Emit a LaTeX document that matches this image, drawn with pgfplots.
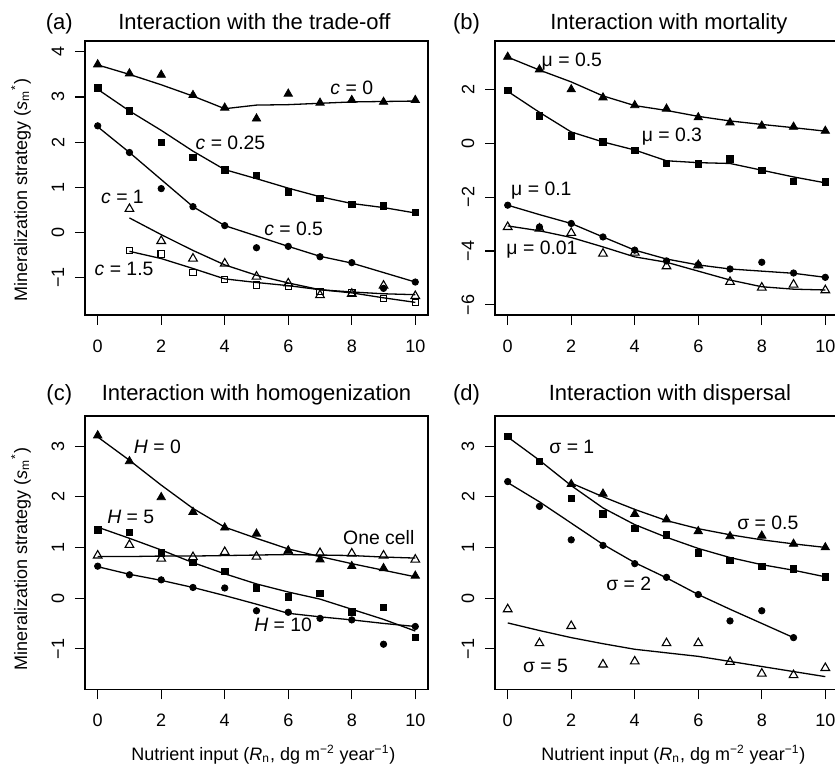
\documentclass[border=0pt]{standalone}
\usepackage{fontspec}
\setmainfont{Liberation Sans}
\usepackage{pgfplots}
\pgfplotsset{compat=1.18}

% 1 px of the reference = 0.5pt
\pgfplotsset{
  rpanel/.style={
    scale only axis, width=171.5pt,
    xmin=-0.4, xmax=10.4,
    xtick={0,2,4,6,8,10}, xticklabels={0,2,4,6,8,10},
    tick pos=left, tick align=outside,
    major tick length=5pt,
    every tick/.style={black, line width=0.55pt},
    axis line style={line width=0.8pt},
    font=\fontsize{9}{10.8}\selectfont,
    xticklabel style={anchor=center, yshift=-10.5pt},
    yticklabel style={xshift=-8.5pt, rotate=90, anchor=center},
    clip=false,
  },
  ftri/.style={only marks, black, mark=triangle*, mark size=2.4pt, mark options={solid, line width=0.4pt}},
  otri/.style={only marks, black, mark=triangle, mark size=2.5pt, mark options={solid, line width=0.55pt}},
  fsq/.style={only marks, black, mark=square*, mark size=1.6pt, mark options={solid, line width=0.4pt}},
  osq/.style={only marks, black, mark=square, mark size=1.6pt, mark options={solid, line width=0.55pt}},
  fci/.style={only marks, black, mark=*, mark size=1.6pt, mark options={solid, line width=0.4pt}},
  fit/.style={no marks, black, line width=0.65pt},
}
\tikzset{
  lab/.style={font=\fontsize{9.7}{11}\selectfont, inner sep=0pt},
  pan/.style={font=\fontsize{11}{13}\selectfont, anchor=base, inner sep=0pt},
}
\newcommand{\ylab}{Mineralization strategy (\textit{s}\textsubscript{m}\textsuperscript{*})}
\newcommand{\xlab}{Nutrient input (\textit{R}\textsubscript{n}, dg m\textsuperscript{−2} year\textsuperscript{−1})}

\begin{document}
\begin{tikzpicture}

% (a)
\begin{axis}[rpanel, at={(42.5pt,-20.5pt)}, anchor=north west, height=137pt,
  ymin=-1.83, ymax=4.24, ytick={-1,0,1,2,3,4}, yticklabels={−1,0,1,2,3,4},
  ylabel={\ylab},
  ylabel style={at={(axis description cs:-0.169,0.455)}, anchor=base, rotate=0},
]
\addplot[fit] coordinates {(0,3.71)(1,3.50)(2,3.27)(3,3.02)(4,2.74)(5,2.82)(6,2.83)(7,2.86)(8,2.89)(9,2.90)(10,2.91)};
\addplot[ftri] coordinates {(0,3.72)(1,3.52)(2,3.49)(3,3.04)(4,2.76)(5,2.52)(6,3.07)(7,2.87)(8,2.93)(9,2.89)(10,2.93)};
\addplot[fit] coordinates {(0,3.17)(1,2.69)(2,2.26)(3,1.80)(4,1.39)(5,1.19)(6,0.98)(7,0.79)(8,0.64)(9,0.55)(10,0.43)};
\addplot[fsq] coordinates {(0,3.20)(1,2.69)(2,1.99)(3,1.66)(4,1.38)(5,1.26)(6,0.90)(7,0.75)(8,0.62)(9,0.59)(10,0.44)};
\addplot[fit] coordinates {(0,2.34)(1,1.77)(2,1.17)(3,0.57)(4,0.15)(5,-0.08)(6,-0.31)(7,-0.53)(8,-0.68)(9,-0.89)(10,-1.10)};
\addplot[fci] coordinates {(0,2.36)(1,1.77)(2,0.97)(3,0.57)(4,0.15)(5,-0.34)(6,-0.31)(7,-0.54)(8,-0.67)(9,-1.24)(10,-1.10)};
\addplot[fit] coordinates {(1,0.32)(2,-0.05)(3,-0.40)(4,-0.72)(5,-0.95)(6,-1.12)(7,-1.27)(8,-1.32)(9,-1.36)(10,-1.38)};
\addplot[otri] coordinates {(1,0.52)(2,-0.19)(3,-0.58)(4,-0.69)(5,-0.98)(6,-1.13)(7,-1.39)(8,-1.36)(9,-1.18)(10,-1.41)};
\addplot[fit] coordinates {(1,-0.42)(2,-0.58)(3,-0.80)(4,-1.03)(5,-1.11)(6,-1.18)(7,-1.27)(8,-1.34)(9,-1.45)(10,-1.55)};
\addplot[osq] coordinates {(1,-0.40)(2,-0.48)(3,-0.89)(4,-1.04)(5,-1.17)(6,-1.20)(7,-1.31)(8,-1.33)(9,-1.47)(10,-1.55)};
\node[lab] at (axis cs:8.0,3.2) {\textit{c} = 0};
\node[lab] at (axis cs:4.18,1.99) {\textit{c} = 0.25};
\node[lab] at (axis cs:6.17,0.09) {\textit{c} = 0.5};
\node[lab] at (axis cs:0.78,0.79) {\textit{c} = 1};
\node[lab] at (axis cs:0.83,-0.81) {\textit{c} = 1.5};
\node[pan] at (axis description cs:-0.075,1.041) {(a)};
\node[pan] at (axis description cs:0.494,1.041) {Interaction with the trade-off};
\end{axis}

% (b)
\begin{axis}[rpanel, at={(247.5pt,-20.5pt)}, anchor=north west, height=137pt,
  ymin=-6.38, ymax=3.80, ytick={-6,-4,-2,0,2}, yticklabels={−6,−4,−2,0,2},
]
\addplot[fit] coordinates {(0,3.20)(1,2.72)(2,2.28)(3,1.76)(4,1.40)(5,1.22)(6,1.00)(7,0.83)(8,0.70)(9,0.58)(10,0.45)};
\addplot[ftri] coordinates {(0,3.21)(1,2.74)(2,2.00)(3,1.70)(4,1.41)(5,1.28)(6,0.96)(7,0.77)(8,0.65)(9,0.61)(10,0.46)};
\addplot[fit] coordinates {(0,1.93)(1,1.15)(2,0.42)(3,0.05)(4,-0.25)(5,-0.65)(6,-0.72)(7,-0.75)(8,-1.00)(9,-1.25)(10,-1.47)};
\addplot[fsq] coordinates {(0,1.97)(1,1.01)(2,0.28)(3,0.05)(4,-0.27)(5,-0.74)(6,-0.77)(7,-0.58)(8,-1.01)(9,-1.42)(10,-1.43)};
\addplot[fit] coordinates {(0,-2.30)(1,-2.65)(2,-2.98)(3,-3.48)(4,-3.97)(5,-4.30)(6,-4.52)(7,-4.67)(8,-4.75)(9,-4.83)(10,-4.98)};
\addplot[fci] coordinates {(0,-2.30)(1,-3.11)(2,-2.98)(3,-3.48)(4,-3.97)(5,-4.37)(6,-4.51)(7,-4.67)(8,-4.42)(9,-4.82)(10,-4.98)};
\addplot[fit] coordinates {(0,-3.07)(1,-3.25)(2,-3.50)(3,-3.85)(4,-4.22)(5,-4.42)(6,-4.75)(7,-5.08)(8,-5.33)(9,-5.42)(10,-5.45)};
\addplot[otri] coordinates {(0,-3.11)(1,-3.17)(2,-3.33)(3,-4.10)(4,-4.06)(5,-4.57)(6,-4.53)(7,-5.15)(8,-5.36)(9,-5.25)(10,-5.46)};
\node[lab] at (axis cs:2.02,3.05) {μ = 0.5};
\node[lab] at (axis cs:5.17,0.24) {μ = 0.3};
\node[lab] at (axis cs:1.06,-1.77) {μ = 0.1};
\node[lab] at (axis cs:1.08,-3.95) {μ = 0.01};
\node[pan] at (axis description cs:-0.083,1.041) {(b)};
\node[pan] at (axis description cs:0.507,1.041) {Interaction with mortality};
\end{axis}

% (c)
\begin{axis}[rpanel, at={(42.5pt,-207.85pt)}, anchor=north west, height=136.8pt,
  ymin=-1.80, ymax=3.60, ytick={-1,0,1,2,3}, yticklabels={−1,0,1,2,3},
  ylabel={\ylab},
  ylabel style={at={(axis description cs:-0.169,0.475)}, anchor=base, rotate=0},
  xlabel={\xlab},
  xlabel style={at={(axis description cs:0.52,-0.262)}, anchor=base},
]
\addplot[fit] coordinates {(0,3.18)(1,2.72)(2,2.23)(3,1.77)(4,1.40)(5,1.18)(6,0.97)(7,0.82)(8,0.68)(9,0.55)(10,0.42)};
\addplot[ftri] coordinates {(0,3.21)(1,2.70)(2,1.99)(3,1.70)(4,1.39)(5,1.27)(6,0.94)(7,0.76)(8,0.63)(9,0.59)(10,0.44)};
\addplot[fit] coordinates {(0,1.40)(1,1.18)(2,0.95)(3,0.70)(4,0.48)(5,0.28)(6,0.12)(7,-0.02)(8,-0.22)(9,-0.42)(10,-0.65)};
\addplot[fsq] coordinates {(0,1.35)(1,1.30)(2,0.89)(3,0.70)(4,0.53)(5,0.20)(6,0.02)(7,0.09)(8,-0.27)(9,-0.18)(10,-0.78)};
\addplot[fit] coordinates {(0,0.62)(1,0.47)(2,0.35)(3,0.21)(4,0.05)(5,-0.12)(6,-0.30)(7,-0.37)(8,-0.43)(9,-0.50)(10,-0.56)};
\addplot[fci] coordinates {(0,0.63)(1,0.46)(2,0.36)(3,0.21)(4,0.20)(5,-0.25)(6,-0.28)(7,-0.40)(8,-0.43)(9,-0.91)(10,-0.56)};
\addplot[fit] coordinates {(0,0.82)(1,0.82)(2,0.83)(3,0.83)(4,0.84)(5,0.85)(6,0.86)(7,0.85)(8,0.84)(9,0.81)(10,0.79)};
\addplot[otri] coordinates {(0,0.84)(1,1.05)(2,0.78)(3,0.81)(4,0.91)(5,0.82)(6,0.92)(7,0.89)(8,0.88)(9,0.84)(10,0.76)};
\node[lab] at (axis cs:1.88,2.99) {\textit{H} = 0};
\node[lab] at (axis cs:1.04,1.60) {\textit{H} = 5};
\node[lab] at (axis cs:8.85,1.19) {One cell};
\node[lab] at (axis cs:5.84,-0.53) {\textit{H} = 10};
\node[pan] at (axis description cs:-0.075,1.055) {(c)};
\node[pan] at (axis description cs:0.50,1.055) {Interaction with homogenization};
\end{axis}

% (d)
\begin{axis}[rpanel, at={(247.5pt,-207.85pt)}, anchor=north west, height=136.8pt,
  ymin=-1.80, ymax=3.60, ytick={-1,0,1,2,3}, yticklabels={−1,0,1,2,3},
  xlabel={\xlab},
  xlabel style={at={(axis description cs:0.52,-0.262)}, anchor=base},
]
\addplot[fit] coordinates {(0,3.18)(1,2.72)(2,2.22)(3,1.78)(4,1.45)(5,1.20)(6,0.98)(7,0.80)(8,0.66)(9,0.55)(10,0.42)};
\addplot[fsq] coordinates {(0,3.19)(1,2.70)(2,1.97)(3,1.66)(4,1.37)(5,1.25)(6,0.89)(7,0.74)(8,0.62)(9,0.58)(10,0.42)};
\addplot[fit] coordinates {(2,2.27)(3,2.00)(4,1.75)(5,1.53)(6,1.37)(7,1.25)(8,1.15)(9,1.07)(10,1.00)};
\addplot[ftri] coordinates {(2,2.25)(3,2.06)(4,1.66)(5,1.55)(6,1.32)(7,1.22)(8,1.23)(9,1.07)(10,1.00)};
\addplot[fit] coordinates {(0,2.28)(1,1.90)(2,1.48)(3,1.06)(4,0.70)(5,0.40)(6,0.07)(7,-0.22)(8,-0.50)(9,-0.78)};
\addplot[fci] coordinates {(0,2.30)(1,1.81)(2,1.15)(3,1.04)(4,0.68)(5,0.41)(6,0.07)(7,-0.45)(8,-0.25)(9,-0.78)};
\addplot[fit] coordinates {(0,-0.49)(1,-0.64)(2,-0.78)(3,-0.90)(4,-1.01)(5,-1.08)(6,-1.15)(7,-1.25)(8,-1.35)(9,-1.45)(10,-1.55)};
\addplot[otri] coordinates {(0,-0.22)(1,-0.89)(2,-0.55)(3,-1.31)(4,-1.25)(5,-0.89)(6,-0.89)(7,-1.26)(8,-1.49)(9,-1.52)(10,-1.38)};
\node[lab] at (axis cs:2.02,2.98) {σ = 1};
\node[lab] at (axis cs:8.19,1.48) {σ = 0.5};
\node[lab] at (axis cs:3.81,0.28) {σ = 2};
\node[lab] at (axis cs:1.19,-1.33) {σ = 5};
\node[pan] at (axis description cs:-0.083,1.055) {(d)};
\node[pan] at (axis description cs:0.51,1.055) {Interaction with dispersal};
\end{axis}

\pgfresetboundingbox
\path[use as bounding box] (0,0) rectangle (417.5pt,-382.5pt);
\end{tikzpicture}
\end{document}
